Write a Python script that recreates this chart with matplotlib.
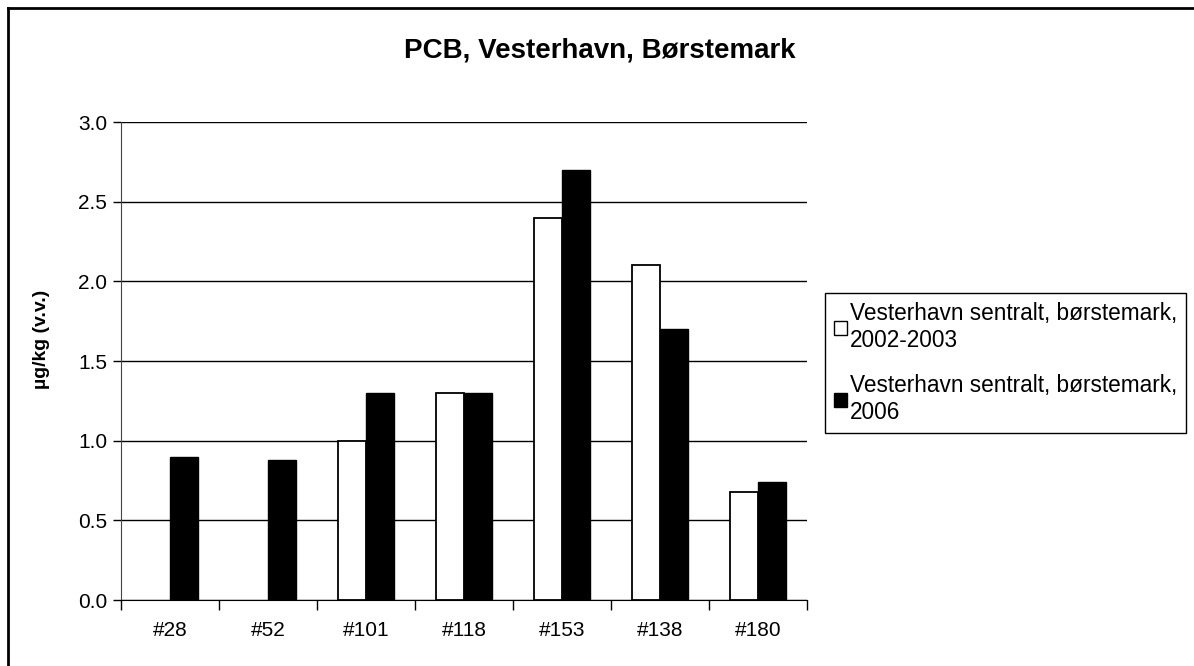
import numpy as np
import matplotlib.pyplot as plt
from matplotlib.lines import Line2D

plt.rcParams['font.family'] = ['Liberation Sans', 'DejaVu Sans']

categories = ['#28', '#52', '#101', '#118', '#153', '#138', '#180']
vals_2002_2003 = [np.nan, np.nan, 1.0, 1.3, 2.4, 2.1, 0.68]
vals_2006 = [0.90, 0.88, 1.3, 1.3, 2.7, 1.7, 0.74]
series_labels = ['Vesterhavn sentralt, børstemark,\n2002-2003',
                 'Vesterhavn sentralt, børstemark,\n2006']
y_ticks = [0.0, 0.5, 1.0, 1.5, 2.0, 2.5, 3.0]

W, H = 1194, 666
fig = plt.figure(figsize=(W / 100, H / 100), dpi=100)
ax = fig.add_axes([121 / W, 1 - 600 / H, (807 - 121) / W, (600 - 122) / H])

x = np.arange(len(categories))
bw = 0.29
ax.bar(x - bw / 2, vals_2002_2003, width=bw, color='white', edgecolor='black',
       linewidth=1.3, zorder=3, label=series_labels[0])
ax.bar(x + bw / 2, vals_2006, width=bw, color='black', edgecolor='black',
       linewidth=1.0, zorder=3, label=series_labels[1])

ax.set_xlim(-0.5, len(categories) - 0.5)
ax.set_ylim(0, 3.0)
ax.set_yticks(y_ticks)
ax.set_yticklabels([f'{v:.1f}' for v in y_ticks], fontsize=15)
ax.yaxis.grid(True, color='black', linewidth=1.0, zorder=0)
ax.set_axisbelow(True)

# category labels centred, tick marks at the boundaries
ax.set_xticks(x)
ax.set_xticklabels(categories, fontsize=15)
ax.tick_params(axis='x', which='major', length=0, pad=15)
ax.set_xticks(np.arange(-0.5, len(categories)), minor=True)
ax.tick_params(axis='x', which='minor', length=7, width=1, direction='out')
ax.tick_params(axis='y', length=6, width=1, direction='out', pad=4)

for s in ['top', 'right']:
    ax.spines[s].set_visible(False)
ax.spines['left'].set_color('#444444')
ax.spines['bottom'].set_color('black')

ax.set_ylabel('µg/kg (v.v.)', fontsize=14, fontweight='bold')
ax.yaxis.set_label_coords(-0.103, 0.545)
fig.text(600 / W, 1 - 50 / H, 'PCB, Vesterhavn, Børstemark', ha='center', va='center',
         fontsize=20, fontweight='bold')

handles = [plt.Rectangle((0, 0), 1, 1, facecolor='white', edgecolor='black', linewidth=1),
           plt.Rectangle((0, 0), 1, 1, facecolor='black', edgecolor='black', linewidth=1)]
leg = fig.legend(handles, series_labels, loc='upper left',
                 bbox_to_anchor=(825 / W, 1 - 293 / H), bbox_transform=fig.transFigure,
                 fontsize=16.3, frameon=True, fancybox=False, framealpha=1,
                 edgecolor='black', handlelength=0.55, handleheight=0.55,
                 handletextpad=0.15, borderpad=0.4, labelspacing=1.0, borderaxespad=0)
leg.get_frame().set_linewidth(1.0)

# outer chart border (top and left edges visible)
fig.add_artist(Line2D([7.5 / W, 1.0], [1 - 7.5 / H, 1 - 7.5 / H], color='black', linewidth=2,
                      transform=fig.transFigure))
fig.add_artist(Line2D([7.5 / W, 7.5 / W], [0, 1 - 7.5 / H], color='black', linewidth=2,
                      transform=fig.transFigure))

fig.savefig('out.png', dpi=100)
